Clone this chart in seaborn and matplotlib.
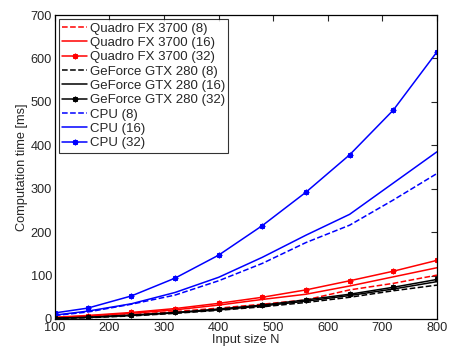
import numpy as np
import pandas as pd
import matplotlib
matplotlib.use("Agg")
import matplotlib.pyplot as plt
import seaborn as sns

N = [100, 160, 240, 320, 400, 480, 560, 640, 720, 800]

quadro_8 = [2, 5, 10, 17, 25, 34, 44, 67, 82, 101]
quadro_16 = [3, 7, 13, 21, 32, 45, 57, 76, 97, 118]
quadro_32 = [4, 8, 15, 24, 36, 50, 67, 88, 110, 135]
geforce_8 = [1, 3, 7, 13, 20, 28, 38, 50, 65, 78]
geforce_16 = [1.5, 3.5, 8, 14, 21, 30, 41, 54, 69, 86]
geforce_32 = [2, 4, 9, 15, 23, 32, 44, 57, 73, 91]
cpu_8 = [8, 16, 34, 55, 88, 128, 176, 216, 274, 335]
cpu_16 = [9, 18, 35, 61, 96, 142, 193, 241, 313, 385]
cpu_32 = [14, 25, 53, 94, 147, 215, 292, 378, 481, 615]

series = [
    ("Quadro FX 3700 (8)", quadro_8, "#ff0000", "--", None),
    ("Quadro FX 3700 (16)", quadro_16, "#ff0000", "-", None),
    ("Quadro FX 3700 (32)", quadro_32, "#ff0000", "-", (8, 2, 0)),
    ("GeForce GTX 280 (8)", geforce_8, "#000000", "--", None),
    ("GeForce GTX 280 (16)", geforce_16, "#000000", "-", None),
    ("GeForce GTX 280 (32)", geforce_32, "#000000", "-", (8, 2, 0)),
    ("CPU (8)", cpu_8, "#0000ff", "--", None),
    ("CPU (16)", cpu_16, "#0000ff", "-", None),
    ("CPU (32)", cpu_32, "#0000ff", "-", (8, 2, 0)),
]

sns.set_style("white")
plt.rcParams["font.family"] = ["Liberation Sans", "DejaVu Sans"]

fig = plt.figure(figsize=(4.5, 3.49), dpi=100)
ax = fig.add_axes([0.122, 0.086, 0.849, 0.871])

for name, vals, color, ls, mk in series:
    df = pd.DataFrame({"N": N, "t": vals})
    kw = {}
    if mk is not None:
        kw = dict(marker=mk, markersize=4, markeredgewidth=0.9,
                  markeredgecolor=color, markerfacecolor=color)
    sns.lineplot(data=df, x="N", y="t", ax=ax, color=color, linestyle=ls,
                 linewidth=1.1, label=name, **kw)

ax.set_xlim(100, 800)
ax.set_ylim(0, 700)
ax.set_xticks(np.arange(100, 801, 100))
ax.set_yticks(np.arange(0, 701, 100))
ax.set_xlabel("Input size N", fontsize=9.2, labelpad=0)
ax.set_ylabel("Computation time [ms]", fontsize=9.2, labelpad=2)
ax.tick_params(direction="in", top=True, right=True, length=4, width=0.8,
               labelsize=9.2, pad=2)
for s in ax.spines.values():
    s.set_linewidth(0.9)
    s.set_color("black")

leg = ax.legend(loc="upper left", fontsize=9.5, frameon=True, fancybox=False,
                edgecolor="black", handlelength=1.9, handletextpad=0.2,
                labelspacing=0.16, borderpad=0.25, borderaxespad=0.3)
leg.get_frame().set_linewidth(0.8)

fig.savefig("out.png", dpi=100)
